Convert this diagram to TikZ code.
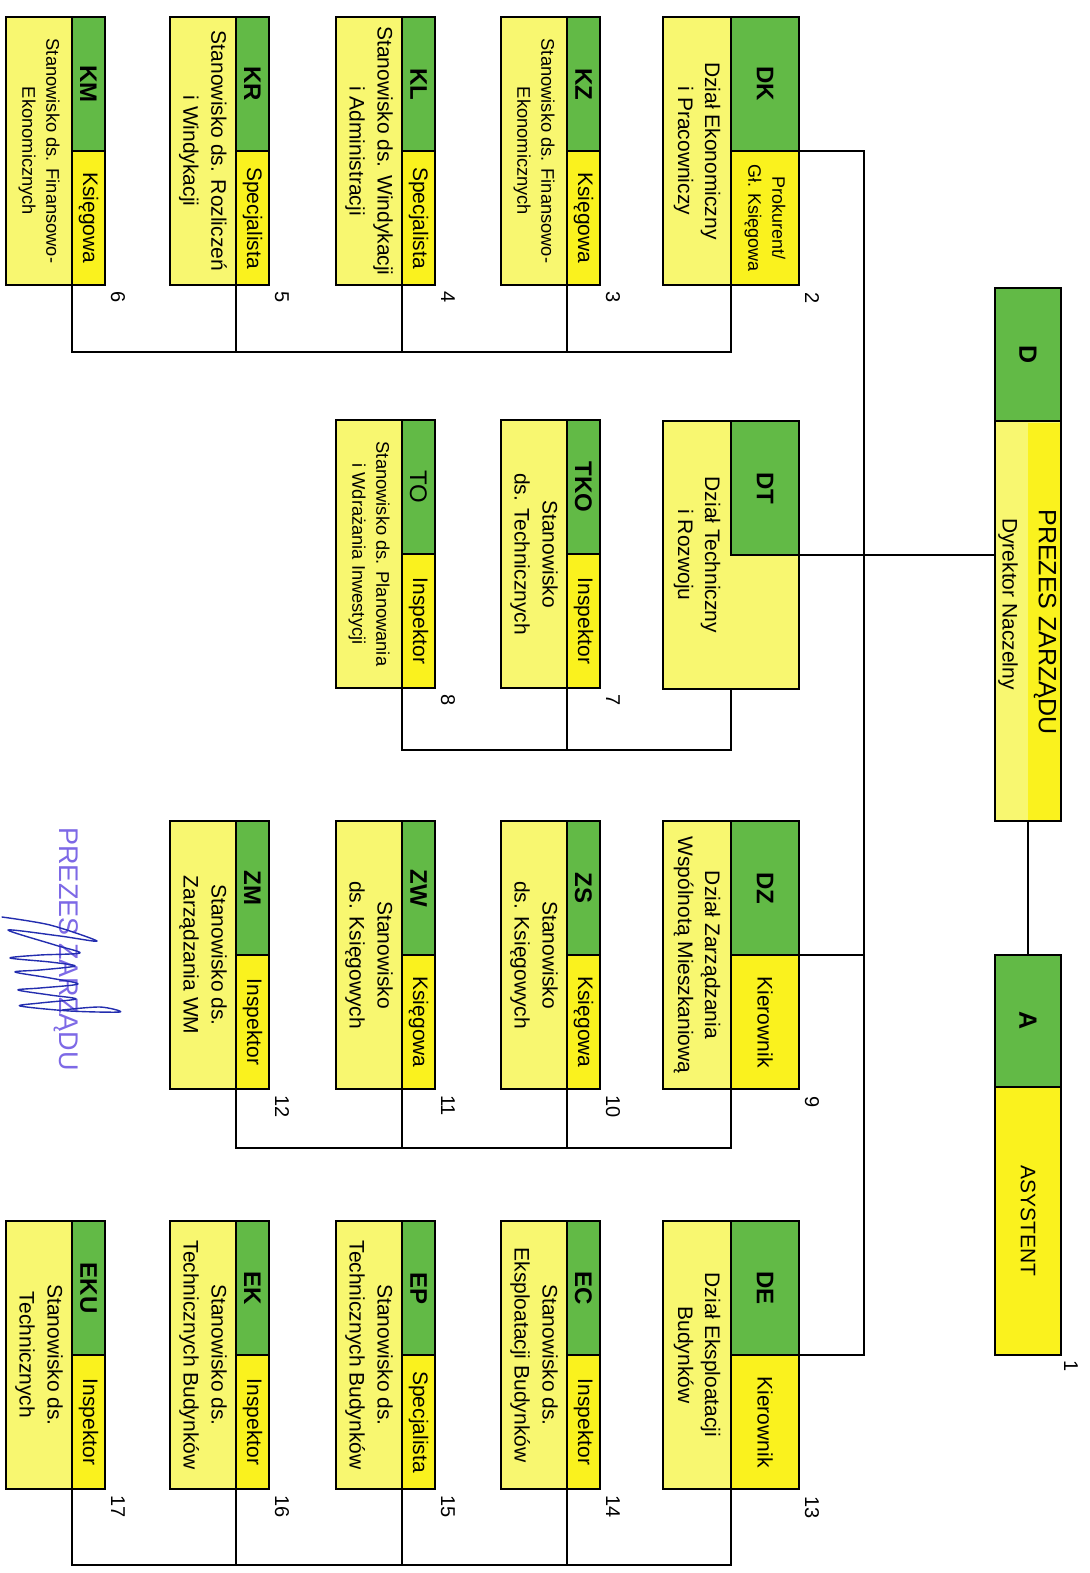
\documentclass[tikz,border=0pt]{standalone}
\usepackage{fontspec}
\setmainfont{Liberation Sans}
\usetikzlibrary{calc}
\definecolor{grn}{RGB}{98,186,70}
\definecolor{yel}{RGB}{250,242,30}
\definecolor{lyel}{RGB}{248,247,112}
\definecolor{stampc}{RGB}{125,105,230}
\definecolor{signc}{RGB}{35,45,175}
\tikzset{
  outer/.style={draw=black, line width=2.4pt, fill=lyel, inner sep=0pt, outer sep=0pt},
  gpart/.style={draw=black, line width=2.4pt, fill=grn, inner sep=0pt, outer sep=0pt},
  ypart/.style={draw=black, line width=2.4pt, fill=yel, inner sep=0pt, outer sep=0pt},
  txt/.style={rotate=-90, align=center, inner sep=0pt, font=\fontsize{21}{27}\selectfont},
  codetxt/.style={rotate=-90, inner sep=0pt, font=\fontsize{24}{28}\selectfont\bfseries},
  numtxt/.style={rotate=-90, anchor=west, inner sep=0pt, font=\fontsize{20}{24}\selectfont},
  dmid/.style={font=\fontsize{18.3}{24}\selectfont},
  dbig/.style={font=\fontsize{21}{28}\selectfont},
  rsmall/.style={font=\fontsize{18}{24}\selectfont},
  conn/.style={draw=black, line width=1.8pt, line cap=rect}
}
% employee box: #1 name, #2 left, #3 top, #4 code, #5 role, #6 desc, #7 desc style, #8 number
\newcommand\empbox[8]{%
  \node[outer, minimum width=99pt, minimum height=268pt, anchor=north west] (#1) at (#2,#3) {};
  \node[gpart, minimum width=33pt, minimum height=134pt, anchor=north east] (#1g) at (#1.north east) {};
  \node[ypart, minimum width=33pt, minimum height=134pt, anchor=south east] (#1r) at (#1.south east) {};
  \node[codetxt] (#1c) at (#1g.center) {#4};
  \node[txt] (#1t) at (#1r.center) {#5};
  \node[txt,#7] (#1d) at ($(#1.west)!0.5!(#1r.west |- #1.west)$) {#6};
  \node[numtxt] (#1n) at ([shift={(13,6)}]#1.south east) {#8};
}
% department box: #1 name, #2 top, #3 code, #4 role, #5 desc, #6 number, #7 role style
\newcommand\deptbox[7]{%
  \node[outer, minimum width=136pt, minimum height=268pt, anchor=north west] (#1) at (663,#2) {};
  \node[gpart, minimum width=68pt, minimum height=134pt, anchor=north east] (#1g) at (#1.north east) {};
  \node[ypart, minimum width=68pt, minimum height=134pt, anchor=south east] (#1r) at (#1.south east) {};
  \node[codetxt] (#1c) at (#1g.center) {#3};
  \node[txt,#7] (#1t) at (#1r.center) {#4};
  \node[txt] (#1d) at ($(#1.west)!0.5!(#1r.west |- #1.west)$) {#5};
  \node[numtxt] (#1n) at ([shift={(13,7)}]#1.south east) {#6};
}
\begin{document}
\begin{tikzpicture}[x=1pt,y=-1pt]
\useasboundingbox (0,0) rectangle (1089,1573);
\fill[white] (0,0) rectangle (1089,1573);

% ---- top: PREZES and ASYSTENT
\node[gpart, minimum width=66pt, minimum height=133pt, anchor=north west] (Dg) at (995,288) {};
\node[outer, minimum width=66pt, minimum height=400pt, anchor=north west] (Dy) at (Dg.south west) {};
\fill[yel] (1028,422.5) rectangle (1059.8,819.8);
\draw[line width=2.4pt] (Dy.north west) rectangle (Dy.south east);
\node[codetxt, font=\fontsize{25}{28}\selectfont\bfseries] (Dc) at (Dg.center) {D};
\node[txt, font=\fontsize{25}{30}\selectfont] (Dt1) at (1045,622) {PREZES ZARZĄDU};
\node[txt] (Dt2) at (1008,604) {Dyrektor Naczelny};

\node[gpart, minimum width=66pt, minimum height=132pt, anchor=north west] (Ag) at (995,955) {};
\node[ypart, minimum width=66pt, minimum height=268pt, anchor=north west] (Ay) at (Ag.south west) {};
\node[codetxt, font=\fontsize{25}{28}\selectfont\bfseries] (Ac) at (Ag.center) {A};
\node[txt] (At) at (Ay.center) {ASYSTENT};
\node[numtxt] (An) at ([shift={(10,5)}]Ay.south east) {1};

% ---- departments
\deptbox{DK}{17}{DK}{Prokurent/\\Gł. Księgowa}{Dział Ekonomiczny\\i Pracowniczy}{2}{rsmall}
\node[outer, minimum width=136pt, minimum height=268pt, anchor=north west] (DT) at (663,421) {};
\node[gpart, minimum width=68pt, minimum height=134pt, anchor=north east] (DTg) at (DT.north east) {};
\node[codetxt] (DTc) at (DTg.center) {DT};
\node[txt] (DTd) at ($(DT.west)!0.5!(DTg.west |- DT.west)$) {Dział Techniczny\\i Rozwoju};
\deptbox{DZ}{821}{DZ}{Kierownik}{Dział Zarządzania\\Wspólnotą Mieszkaniową}{9}{dbig}
\deptbox{DE}{1221}{DE}{Kierownik}{Dział Eksploatacji\\Budynków}{13}{dbig}

% ---- employees
\empbox{KZ}{501}{17}{KZ}{Księgowa}{Stanowisko ds. Finansowo-\\Ekonomicznych}{dmid}{3}
\empbox{KL}{336}{17}{KL}{Specjalista}{Stanowisko ds. Windykacji\\i Administracji}{dbig}{4}
\empbox{KR}{170}{17}{KR}{Specjalista}{Stanowisko ds. Rozliczeń\\i Windykacji}{dbig}{5}
\empbox{KM}{6}{17}{KM}{Księgowa}{Stanowisko ds. Finansowo-\\Ekonomicznych}{dmid}{6}

\empbox{TKO}{501}{420}{TKO}{Inspektor}{Stanowisko\\ds. Technicznych}{dbig}{7}
\empbox{TO}{336}{420}{\mdseries TO}{Inspektor}{Stanowisko ds. Planowania\\i Wdrażania Inwestycji}{dmid}{8}

\empbox{ZS}{501}{821}{ZS}{Księgowa}{Stanowisko\\ds. Księgowych}{dbig}{10}
\empbox{ZW}{336}{821}{ZW}{Księgowa}{Stanowisko\\ds. Księgowych}{dbig}{11}
\empbox{ZM}{170}{821}{ZM}{Inspektor}{Stanowisko ds.\\Zarządzania WM}{dbig}{12}

\empbox{EC}{501}{1221}{EC}{Inspektor}{Stanowisko ds.\\Eksploatacji Budynków}{dbig}{14}
\empbox{EP}{336}{1221}{EP}{Specjalista}{Stanowisko ds.\\Technicznych Budynków}{dbig}{15}
\empbox{EK}{170}{1221}{EK}{Inspektor}{Stanowisko ds.\\Technicznych Budynków}{dbig}{16}
\empbox{EKU}{6}{1221}{EKU}{Inspektor}{Stanowisko ds.\\Technicznych}{dbig}{17}

% ---- connectors
\coordinate (sp) at (864,0);
\draw[conn] (Dy.south) -- (Ag.north);
\draw[conn] (Dy.west |- DTg.south east) -- (DTg.south east);
\draw[conn] (DKg.south east) -- (DKg.south east -| sp) -- (DEg.south east -| sp) -- (DEg.south east);
\draw[conn] (DZg.south east) -- (DZg.south east -| sp);

\coordinate (busK) at (0,352);
\draw[conn] (DKr.south west) -- (DKr.south west |- busK) -- (KMr.south west |- busK) -- (KMr.south west);
\foreach \n in {KZ,KL,KR} \draw[conn] (\n r.south west) -- (\n r.south west |- busK);

\coordinate (busT) at (0,750);
\draw[conn] (DT.south -| DTg.west) -- (DTg.west |- busT) -- (TOr.south west |- busT) -- (TOr.south west);
\draw[conn] (TKOr.south west) -- (TKOr.south west |- busT);

\coordinate (busZ) at (0,1148);
\draw[conn] (DZr.south west) -- (DZr.south west |- busZ) -- (ZMr.south west |- busZ) -- (ZMr.south west);
\foreach \n in {ZS,ZW} \draw[conn] (\n r.south west) -- (\n r.south west |- busZ);

\coordinate (busE) at (0,1565);
\draw[conn] (DEr.south west) -- (DEr.south west |- busE) -- (EKUr.south west |- busE) -- (EKUr.south west);
\foreach \n in {EC,EP,EK} \draw[conn] (\n r.south west) -- (\n r.south west |- busE);

% ---- stamp and signature
\node[txt, text=stampc, font=\fontsize{27}{30}\selectfont] (stamp) at (66,949) {PREZES ZARZĄDU};
\draw[signc, line width=1.4pt, line join=round, line cap=round]
  plot[smooth, tension=0.5] coordinates {(2,917) (50,925) (97,941) (60,936) (8,930) (55,945) (80,953) (40,955) (10,958) (50,962) (75,966) (40,970) (15,972) (50,978) (78,984) (40,988) (18,990) (50,995) (76,999) (40,1003) (20,1006) (70,1011) (120,1012) (100,1007) (62,1010)};
\end{tikzpicture}
\end{document}
